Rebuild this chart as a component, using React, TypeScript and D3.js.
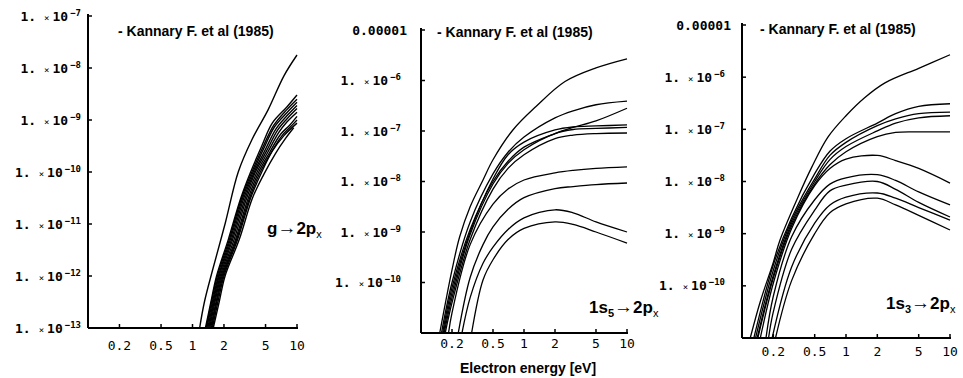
import React from 'react';
import * as d3 from 'd3';

type Pt = [number, number]; // [electron energy in eV, log10 of rate coefficient]

const energyTicks = [0.2, 0.5, 1, 2, 5, 10];
const gDecades = [-7, -8, -9, -10, -11, -12, -13];
const s5Decades = [-5, -6, -7, -8, -9, -10];
const s3Decades = [-5, -6, -7, -8, -9, -10];

// g -> 2p_x
const gCurves: Pt[][] = [
  [[1.17, -13], [1.3, -12.5], [1.55, -11.9], [2.06, -10.98], [2.74, -10.0], [3.7, -9.38], [5.3, -8.8], [7.5, -8.15], [10, -7.75]],
  [[1.33, -13], [1.5, -12.5], [1.7, -12], [2.2, -11.3], [2.9, -10.5], [3.6, -10], [4.6, -9.5], [5.8, -9.06], [8, -8.75], [10, -8.52]],
  [[1.35, -13], [1.52, -12.5], [1.73, -12], [2.25, -11.3], [2.95, -10.5], [3.7, -10], [4.7, -9.53], [6.0, -9.1], [8, -8.8], [10, -8.6]],
  [[1.37, -13], [1.55, -12.5], [1.77, -12], [2.3, -11.3], [3.02, -10.5], [3.8, -10], [4.8, -9.55], [6.1, -9.13], [8, -8.86], [10, -8.66]],
  [[1.4, -13], [1.58, -12.5], [1.8, -12], [2.36, -11.3], [3.1, -10.5], [3.9, -10], [4.95, -9.58], [6.3, -9.17], [8, -8.92], [10, -8.72]],
  [[1.43, -13], [1.61, -12.5], [1.84, -12], [2.42, -11.3], [3.2, -10.5], [4.0, -10], [5.1, -9.6], [6.5, -9.2], [8, -8.98], [10, -8.78]],
  [[1.46, -13], [1.64, -12.5], [1.88, -12], [2.5, -11.3], [3.3, -10.5], [4.15, -10], [5.25, -9.62], [6.7, -9.24], [8, -9.04], [10, -8.85]],
  [[1.49, -13], [1.68, -12.5], [1.92, -12], [2.58, -11.3], [3.42, -10.5], [4.3, -10], [5.45, -9.63], [7.0, -9.27], [8.5, -9.1], [10, -8.93]],
  [[1.52, -13], [1.71, -12.5], [1.96, -12], [2.64, -11.3], [3.52, -10.5], [4.45, -10], [5.6, -9.64], [7.2, -9.3], [8.5, -9.15], [10, -9.0]],
  [[1.55, -13], [1.75, -12.5], [2.0, -12], [2.7, -11.3], [3.6, -10.5], [4.6, -10], [5.8, -9.6], [7.5, -9.3], [10, -9.06]],
  [[1.58, -13], [1.8, -12.5], [2.05, -12], [2.8, -11.3], [3.75, -10.5], [4.8, -10.05], [6.2, -9.65], [7.8, -9.35], [9.3, -9.15]],
];

// 1s5 -> 2p_x
const s5Curves: Pt[][] = [
  [[0.152, -11], [0.2, -9.75], [0.237, -9.1], [0.3, -8.5], [0.4, -7.97], [0.5, -7.57], [0.78, -6.98], [1.3, -6.52], [2.5, -6.02], [5, -5.75], [10, -5.57]],
  [[0.158, -11], [0.2, -10.0], [0.3, -8.8], [0.5, -7.85], [0.7, -7.42], [1, -7.12], [2, -6.74], [3, -6.6], [5, -6.48], [10, -6.41]],
  [[0.162, -11], [0.2, -10.1], [0.3, -8.95], [0.5, -8.0], [0.7, -7.6], [1, -7.32], [2, -7.05], [3, -6.93], [5, -6.8], [10, -6.55]],
  [[0.165, -11], [0.2, -10.2], [0.3, -9.0], [0.5, -7.95], [0.7, -7.47], [1, -7.22], [2, -6.98], [3, -6.92], [5, -6.9], [10, -6.88]],
  [[0.168, -11], [0.2, -10.3], [0.3, -9.05], [0.5, -8.05], [0.7, -7.64], [1, -7.37], [2, -7.05], [3, -6.97], [5, -6.95], [10, -6.93]],
  [[0.172, -11], [0.2, -10.4], [0.3, -9.15], [0.5, -8.15], [0.7, -7.74], [1, -7.47], [2, -7.15], [3, -7.08], [5, -7.05], [10, -7.04]],
  [[0.185, -11], [0.2, -10.6], [0.3, -9.25], [0.5, -8.45], [0.7, -8.15], [1, -7.97], [2, -7.83], [3, -7.78], [5, -7.74], [10, -7.71]],
  [[0.23, -11], [0.3, -9.9], [0.4, -9.25], [0.5, -8.9], [0.7, -8.55], [1, -8.32], [2, -8.14], [3, -8.1], [5, -8.06], [10, -8.03]],
  [[0.25, -11], [0.3, -10.3], [0.4, -9.62], [0.5, -9.3], [0.7, -8.95], [1, -8.72], [2, -8.56], [3, -8.62], [5, -8.8], [10, -9.0]],
  [[0.31, -11], [0.4, -9.95], [0.5, -9.55], [0.7, -9.15], [1, -8.93], [2, -8.8], [3, -8.85], [5, -9.0], [10, -9.22]],
];

// 1s3 -> 2p_x
const s3Curves: Pt[][] = [
  [[0.12, -11], [0.15, -10.3], [0.2, -9.55], [0.232, -9.12], [0.345, -8.3], [0.47, -7.72], [0.67, -7.15], [1, -6.74], [1.5, -6.4], [2.37, -6.11], [5, -5.83], [10, -5.57]],
  [[0.13, -11], [0.2, -9.6], [0.3, -8.7], [0.5, -7.85], [0.7, -7.42], [1, -7.18], [2, -6.88], [3, -6.7], [5, -6.56], [10, -6.51]],
  [[0.135, -11], [0.2, -9.7], [0.3, -8.75], [0.5, -7.95], [0.7, -7.5], [1, -7.25], [2, -6.93], [3, -6.8], [5, -6.7], [10, -6.67]],
  [[0.14, -11], [0.2, -9.8], [0.3, -8.8], [0.5, -8.0], [0.7, -7.58], [1, -7.33], [2, -7.03], [3, -6.88], [5, -6.78], [10, -6.74]],
  [[0.142, -11], [0.2, -9.85], [0.3, -8.85], [0.5, -8.05], [0.7, -7.68], [1, -7.43], [2, -7.14], [3, -7.06], [5, -7.05], [10, -7.05]],
  [[0.15, -11], [0.2, -9.95], [0.3, -8.9], [0.5, -8.08], [0.7, -7.75], [1, -7.57], [2, -7.5], [3, -7.6], [5, -7.75], [10, -8.03]],
  [[0.17, -11], [0.2, -10.2], [0.3, -9.06], [0.5, -8.35], [0.7, -8.05], [1, -7.93], [2, -7.87], [3, -7.98], [5, -8.2], [10, -8.45]],
  [[0.18, -11], [0.2, -10.5], [0.3, -9.3], [0.5, -8.55], [0.7, -8.18], [1, -8.07], [2, -8.0], [3, -8.15], [5, -8.4], [10, -8.68]],
  [[0.195, -11], [0.3, -9.64], [0.5, -8.8], [0.7, -8.45], [1, -8.3], [2, -8.22], [3, -8.32], [5, -8.5], [10, -8.74]],
  [[0.21, -11], [0.3, -9.9], [0.5, -9.0], [0.7, -8.6], [1, -8.43], [2, -8.32], [3, -8.45], [5, -8.65], [10, -8.93]],
];

const mono = "'DejaVu Sans Mono', monospace";
const sans = "'Liberation Sans', Arial, sans-serif";

interface PanelProps {
  id: string;
  curves: Pt[][];
  decades: number[];
  yDomain: [number, number];
  xRange: [number, number];
  yRange: [number, number];
  labelGap: number;
  titleX: number;
  titleY: number;
  tickLabelY: number;
  topPlain: boolean;
  strokeW: number;
  label: React.ReactNode;
}

function Panel(p: PanelProps) {
  const x = d3.scaleLog().domain([0.1, 10]).range(p.xRange);
  const y = d3.scaleLog().domain([10 ** p.yDomain[0], 10 ** p.yDomain[1]]).range(p.yRange);
  const line = d3.line<Pt>()
    .x(d => x(d[0]))
    .y(d => y(10 ** d[1]))
    .curve(d3.curveCatmullRom.alpha(0.5));
  const [x0, x1] = p.xRange;
  const [yb, yt] = p.yRange;

  return (
    <g>
      <defs>
        <clipPath id={`clip-${p.id}`}>
          <rect x={x0} y={yt - 2} width={x1 - x0 + 2} height={yb - yt + 2} />
        </clipPath>
      </defs>
      <g clipPath={`url(#clip-${p.id})`}>
        {p.curves.map((c, i) => (
          <path key={i} d={line(c) || ''} fill="none" stroke="#000" strokeWidth={p.strokeW} />
        ))}
      </g>
      {/* axes */}
      <line x1={x0} x2={x0} y1={yt - 2} y2={yb} stroke="#000" strokeWidth={2} />
      <line x1={x0} x2={x1 + 1} y1={yb} y2={yb} stroke="#000" strokeWidth={2} />
      {p.decades.map(d => (
        <g key={d}>
          <line x1={x0} x2={x0 + 4} y1={y(10 ** d)} y2={y(10 ** d)} stroke="#000" strokeWidth={1.5} />
          {p.topPlain && d === p.decades[0] ? (
            <text x={x0 - p.labelGap + 6} y={y(10 ** d)} dy="0.35em" textAnchor="end"
              fontFamily={mono} fontSize={13} fontWeight="bold">0.00001</text>
          ) : (
            <text x={x0 - p.labelGap} y={y(10 ** d)} dy="0.35em" textAnchor="end"
              fontFamily={mono} fontSize={13} fontWeight="bold">
              1.<tspan fontSize={9} fontWeight="normal" dx={8}>×</tspan><tspan dx={3}>10</tspan>
              <tspan fontSize={9} dy={-5} dx={2}>{`−${Math.abs(d)}`}</tspan>
            </text>
          )}
        </g>
      ))}
      {energyTicks.map(t => (
        <g key={t}>
          <line x1={x(t)} x2={x(t)} y1={yb} y2={yb - 4} stroke="#000" strokeWidth={1.5} />
          <text x={x(t)} y={p.tickLabelY} dy="0.35em" textAnchor="middle"
            fontFamily={mono} fontSize={13}>{t}</text>
        </g>
      ))}
      <text x={p.titleX} y={p.titleY} dy="0.35em" fontFamily={sans} fontSize={14} fontWeight="bold">
        - Kannary F. et al (1985)
      </text>
      {p.label}
    </g>
  );
}

function TransLabel({ x, y, lower, sub }: { x: number; y: number; lower: string; sub?: string }) {
  return (
    <text x={x} y={y} dy="0.35em" fontFamily={sans} fontSize={17} fontWeight="bold">
      {lower}
      {sub ? <tspan fontSize={11} dy={4}>{sub}</tspan> : null}
      <tspan dy={sub ? -4 : 0} fontSize={19}>→</tspan>
      <tspan>2p</tspan>
      <tspan fontSize={11} fontWeight="normal" dy={4}>x</tspan>
    </text>
  );
}

export default function App() {
  return (
    <svg width={963} height={378} style={{ position: 'absolute', left: 0, top: 0, background: '#fff' }}>
      <Panel id="g" curves={gCurves} decades={gDecades} yDomain={[-13, -7]}
        xRange={[88, 297]} yRange={[328, 16]} labelGap={7} titleX={118} titleY={31}
        tickLabelY={345} topPlain={false} strokeW={1.4}
        label={<TransLabel x={267} y={228} lower="g" />} />
      <Panel id="s5" curves={s5Curves} decades={s5Decades} yDomain={[-11, -5]}
        xRange={[421, 627]} yRange={[333, 30]} labelGap={20} titleX={437} titleY={32}
        tickLabelY={343} topPlain={true} strokeW={1.3}
        label={<TransLabel x={589} y={307} lower="1s" sub="5" />} />
      <Panel id="s3" curves={s3Curves} decades={s3Decades} yDomain={[-11, -5]}
        xRange={[742, 950]} yRange={[338, 25]} labelGap={17} titleX={760} titleY={29}
        tickLabelY={351} topPlain={true} strokeW={1.3}
        label={<TransLabel x={886} y={303} lower="1s" sub="3" />} />
      <text x={528} y={368} dy="0.35em" textAnchor="middle" fontFamily={sans} fontSize={14} fontWeight="bold">
        Electron energy [eV]
      </text>
    </svg>
  );
}
